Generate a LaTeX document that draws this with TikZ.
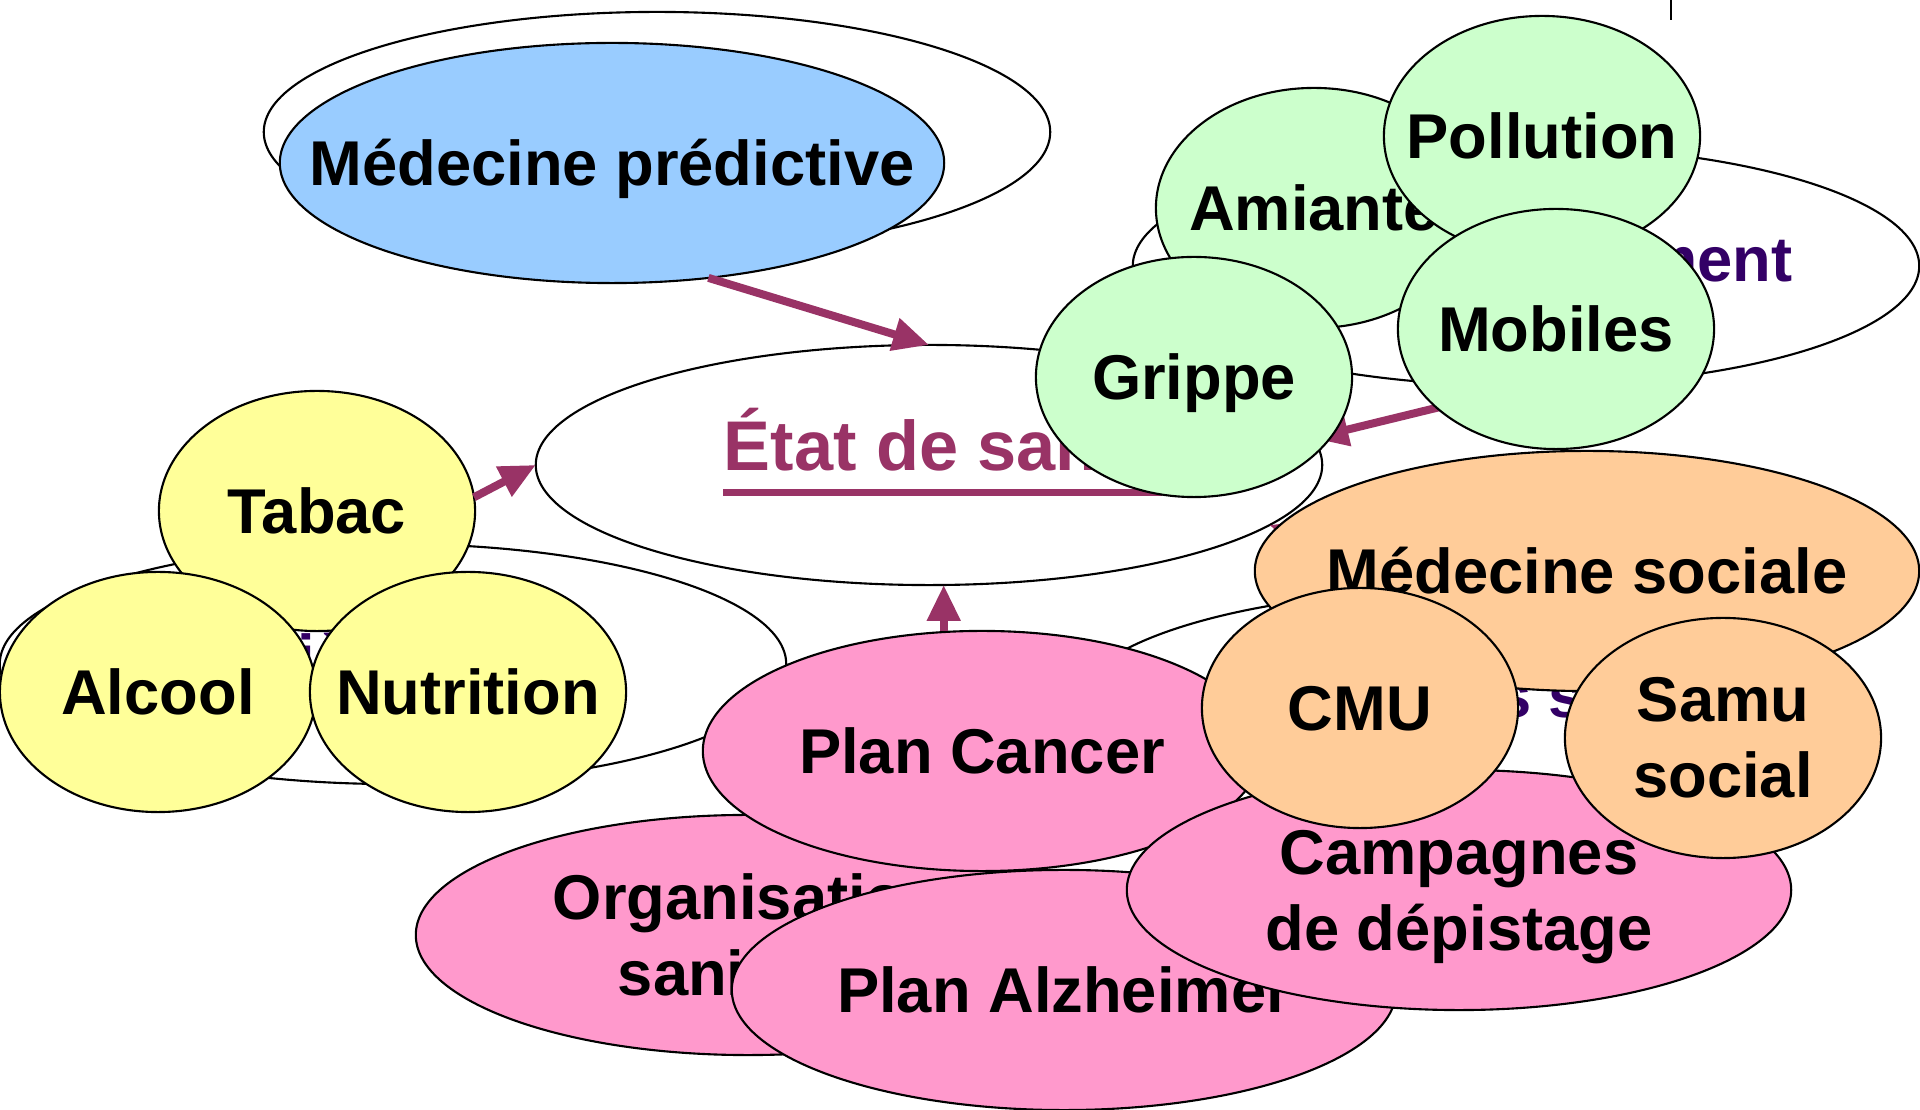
\documentclass[tikz,border=0pt]{standalone}
\usepackage{fontspec}
\setmainfont{Liberation Sans}
\usepackage{tikz}
\usetikzlibrary{arrows.meta,shapes,positioning}
\definecolor{hsblue}{RGB}{153,204,255}
\definecolor{hsgreen}{RGB}{204,255,204}
\definecolor{hsyellow}{RGB}{255,255,153}
\definecolor{hsorange}{RGB}{255,204,153}
\definecolor{hspink}{RGB}{255,153,204}
\definecolor{hsmaroon}{RGB}{153,51,102}
\definecolor{hspurple}{RGB}{51,0,102}
\newcommand{\centretext}[1]{\makebox[0pt]{#1}}
\tikzstyle{arrow} = [line width=0.08cm,-{Triangle[length=0.36cm,width=0.32cm]},color=hsmaroon]
\tikzstyle{theme} = [ellipse, draw=black, fill=white, line width=0.6pt, minimum width=7.86cm, minimum height=2.4cm, inner sep=0pt, outer sep=0pt]
\tikzstyle{themelabel} = [anchor=base, inner sep=0pt, text=hspurple, font=\fontsize{18}{21.6}\selectfont\bfseries]
\tikzstyle{factor} = [ellipse, draw=black, line width=0.6pt, minimum width=3.16cm, minimum height=2.4cm, inner sep=0pt, outer sep=0pt, align=center, font=\fontsize{18}{21.6}\selectfont\bfseries]
\tikzstyle{oneline} = [text height=0.456cm, text depth=0pt]
\tikzstyle{wide} = [minimum width=6.64cm]

\begin{document}
\begin{tikzpicture}[x=0.01cm, y=-0.01cm]
\useasboundingbox (0,0) rectangle (1920,1110);

% Themes (white ellipses)
\node (medbg) [theme] at (657,132) {};
\node (env) [theme] at (1526,266) {};
\node (envtxt) [themelabel] at (1562,282) {Environnement};
\node (hyg) [theme] at (393,664) {};
\node (hygtxt) [themelabel] at (400,680) {Hygiène de vie};
\node (inegal) [theme] at (1465,710) {};
\node (inegtxt) [themelabel] at (1519,718) {Inégalités sociales};

% Health status
\node (etat) [theme] at (929,465) {};
\node (etattxt) [anchor=base west, inner sep=0pt, text=hsmaroon, font=\fontsize{20}{24}\selectfont\bfseries] at (723,471) {État de santé};
\draw[hsmaroon, line width=0.07cm] ([yshift=-0.215cm]etattxt.base west) -- ([yshift=-0.215cm]etattxt.base east);

% Predictive medicine
\node (medpred) [factor, wide, oneline, fill=hsblue] at (612,163) {\centretext{Médecine prédictive}};
\draw[arrow] (medpred.-50) -- (etat.north);

% Arrows under the bubbles
\draw[arrow] (env.south) -- (etat.4);
\draw[arrow] (inegal.north) -- (etat.-10);

% Environment
\node (amiante) [factor, oneline, fill=hsgreen] at (1314,208) {\centretext{Amiante}};
\node (pollution) [factor, oneline, fill=hsgreen] at (1542,136) {\centretext{Pollution}};
\node (mobiles) [factor, oneline, fill=hsgreen] at (1556,329) {\centretext{Mobiles}};
\node (grippe) [factor, oneline, fill=hsgreen] at (1194,377) {\centretext{Grippe}};

% Lifestyle
\node (tabac) [factor, oneline, fill=hsyellow] at (317,511) {\centretext{Tabac}};
\draw[arrow] (tabac.5) -- (etat.west);
\node (alcool) [factor, oneline, fill=hsyellow] at (158,692) {\centretext{Alcool}};
\node (nutrition) [factor, oneline, fill=hsyellow] at (468,692) {\centretext{Nutrition}};

% Social
\node (medsoc) [factor, wide, oneline, fill=hsorange] at (1587,571) {\centretext{Médecine sociale}};

% Public health
\node (organisation) [factor, wide, fill=hspink] at (748,935) {Organisation\\sanitaire};
\node (cancer) [factor, oneline, minimum width=5.58cm, fill=hspink] at (982,751) {\centretext{Plan Cancer}};
\draw[arrow] (cancer.north -| etat.-83) -- (etat.-83);
\node (alzheimer) [factor, wide, oneline, fill=hspink] at (1064,990) {\centretext{Plan Alzheimer}};
\node (campagnes) [factor, wide, text depth=0pt, fill=hspink] at (1459,890) {Campagnes\\de dépistage};

\node (cmu) [factor, oneline, fill=hsorange] at (1360,708) {\centretext{CMU}};
\node (samu) [factor, fill=hsorange] at (1723,738) {Samu\\social};

\draw[line width=0.02cm] (1671,0) -- (1671,20);
\end{tikzpicture}
\end{document}
